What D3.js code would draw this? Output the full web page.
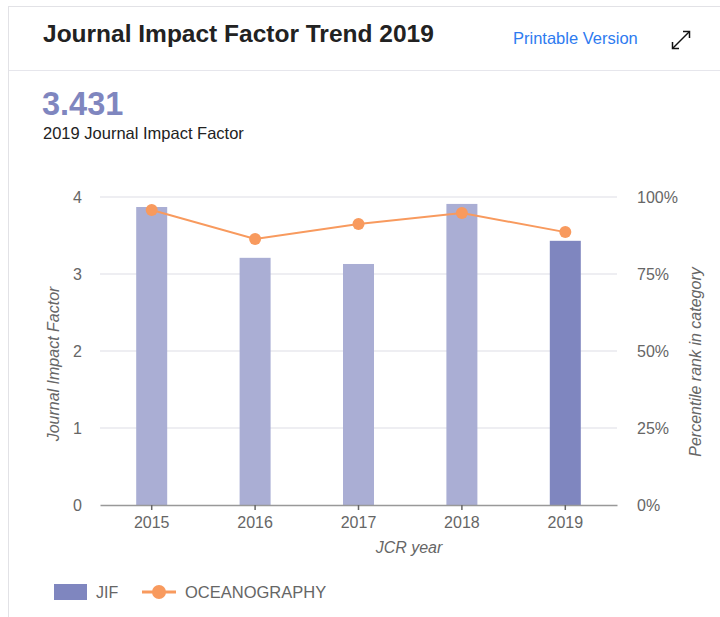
<!DOCTYPE html>
<html>
<head>
<meta charset="utf-8">
<script src="https://d3js.org/d3.v7.min.js"></script>
<style>
  body { margin: 0; background: #fff; font-family: Arial, "Liberation Sans", sans-serif; }
</style>
</head>
<body>
<svg id="chart" width="720" height="617"></svg>
<script>
// chart data
let years = ['2015', '2016', '2017', '2018', '2019'];
let jif = [3.87, 3.21, 3.13, 3.91, 3.431];
let percentile = [95.8, 86.4, 91.2, 94.8, 88.6];
let jifTicks = [0, 1, 2, 3, 4];
let pctTicks = [0, 25, 50, 75, 100];

let svg = d3.select('#chart');
let fontFam = 'Arial, "Liberation Sans", sans-serif';

// card outline and header
svg.append('rect').attr('x', 8.5).attr('y', 6.5).attr('width', 720).attr('height', 700)
  .attr('fill', '#fff').attr('stroke', '#e2e2e6');
svg.append('line').attr('x1', 9).attr('x2', 720).attr('y1', 70.5).attr('y2', 70.5).attr('stroke', '#e6e6ec');

svg.append('text').attr('x', 43).attr('y', 42).style('font-size', '24.5px').style('font-weight', 'bold')
  .attr('fill', '#222').text('Journal Impact Factor Trend 2019');
svg.append('text').attr('x', 513).attr('y', 44).style('font-size', '16.5px').attr('fill', '#2e7bf0').text('Printable Version');

// expand icon
let icon = svg.append('g').attr('stroke', '#111').attr('stroke-width', 1.5).attr('fill', 'none');
icon.append('line').attr('x1', 673).attr('y1', 48).attr('x2', 689).attr('y2', 32);
icon.append('polyline').attr('points', '683,31.5 689.5,31.5 689.5,38');
icon.append('polyline').attr('points', '672.5,42 672.5,48.5 679,48.5');

svg.append('text').attr('x', 42).attr('y', 115).style('font-size', '32.5px').style('font-weight', 'bold')
  .attr('fill', '#7f86bf').text('3.431');
svg.append('text').attr('x', 43).attr('y', 139).style('font-size', '16.5px').attr('fill', '#222').text('2019 Journal Impact Factor');

// scales
let plotLeft = 100, plotRight = 617, plotTop = 197, plotBottom = 505;
let x = d3.scaleBand().domain(years).range([plotLeft, plotRight]);
let y = d3.scaleLinear().domain([0, 4]).range([plotBottom, plotTop]);
let y2 = d3.scaleLinear().domain([0, 100]).range([plotBottom, plotTop]);

// gridlines
svg.append('g').selectAll('line').data(jifTicks.slice(1)).enter().append('line')
  .attr('x1', plotLeft).attr('x2', plotRight)
  .attr('y1', (d) => y(d)).attr('y2', (d) => y(d))
  .attr('stroke', '#e8e8ee').attr('stroke-width', 1.5);

// bars
let barWidth = 31;
svg.append('g').selectAll('rect').data(jif).enter().append('rect')
  .attr('x', (d, i) => x(years[i]) + x.bandwidth() / 2 - barWidth / 2)
  .attr('y', (d) => y(d))
  .attr('width', barWidth)
  .attr('height', (d) => plotBottom - y(d))
  .attr('fill', (d, i) => i === years.length - 1 ? '#7f86bf' : '#aaaed4');

// axes
let xAxis = d3.axisBottom(x).tickSize(5).tickSizeOuter(0);
let gx = svg.append('g').attr('transform', 'translate(0,' + plotBottom + ')').call(xAxis);
gx.select('.domain').attr('stroke', '#999').attr('stroke-width', 1.5);
gx.selectAll('.tick line').attr('stroke', '#666').attr('stroke-width', 1.5);
gx.selectAll('text').attr('fill', '#666').attr('dy', '0.95em').style('font-size', '16px').style('font-family', fontFam);

let yAxis = d3.axisLeft(y).tickValues(jifTicks).tickSize(0).tickPadding(18).tickFormat(d3.format('d'));
let gy = svg.append('g').attr('transform', 'translate(' + plotLeft + ',0)').call(yAxis);
gy.select('.domain').remove();
gy.selectAll('text').attr('fill', '#666').style('font-size', '16px').style('font-family', fontFam);

let y2Axis = d3.axisRight(y2).tickValues(pctTicks).tickSize(0).tickPadding(20).tickFormat((d) => d + '%');
let gy2 = svg.append('g').attr('transform', 'translate(' + plotRight + ',0)').call(y2Axis);
gy2.select('.domain').remove();
gy2.selectAll('text').attr('fill', '#666').style('font-size', '16px').style('font-family', fontFam);

// axis titles
svg.append('text').attr('transform', 'rotate(-90)').attr('x', -364).attr('y', 59)
  .style('text-anchor', 'middle').style('font-size', '16px').style('font-style', 'italic').attr('fill', '#666')
  .text('Journal Impact Factor');
svg.append('text').attr('transform', 'rotate(-90)').attr('x', -362).attr('y', 701)
  .style('text-anchor', 'middle').style('font-size', '16px').style('font-style', 'italic').attr('fill', '#666')
  .text('Percentile rank in category');
svg.append('text').attr('x', 409).attr('y', 553)
  .style('text-anchor', 'middle').style('font-size', '16px').style('font-style', 'italic').attr('fill', '#666')
  .text('JCR year');

// percentile line
let line = d3.line().x((d, i) => x(years[i]) + x.bandwidth() / 2).y((d) => y2(d));
svg.append('path').datum(percentile).attr('d', line).attr('fill', 'none').attr('stroke', '#f89a5e').attr('stroke-width', 2);
svg.append('g').selectAll('circle').data(percentile).enter().append('circle')
  .attr('cx', (d, i) => x(years[i]) + x.bandwidth() / 2)
  .attr('cy', (d) => y2(d))
  .attr('r', 6).attr('fill', '#f89a5e');

// legend
let legend = svg.append('g');
legend.append('rect').attr('x', 54).attr('y', 584).attr('width', 33).attr('height', 16).attr('fill', '#7f86bf');
legend.append('text').attr('x', 96).attr('y', 598).style('font-size', '16px').attr('fill', '#666').text('JIF');
legend.append('line').attr('x1', 142).attr('x2', 176).attr('y1', 592).attr('y2', 592).attr('stroke', '#f89a5e').attr('stroke-width', 3);
legend.append('circle').attr('cx', 159).attr('cy', 592).attr('r', 7).attr('fill', '#f89a5e');
legend.append('text').attr('x', 185).attr('y', 598).style('font-size', '16.5px').attr('fill', '#666').text('OCEANOGRAPHY');
</script>
</body>
</html>
